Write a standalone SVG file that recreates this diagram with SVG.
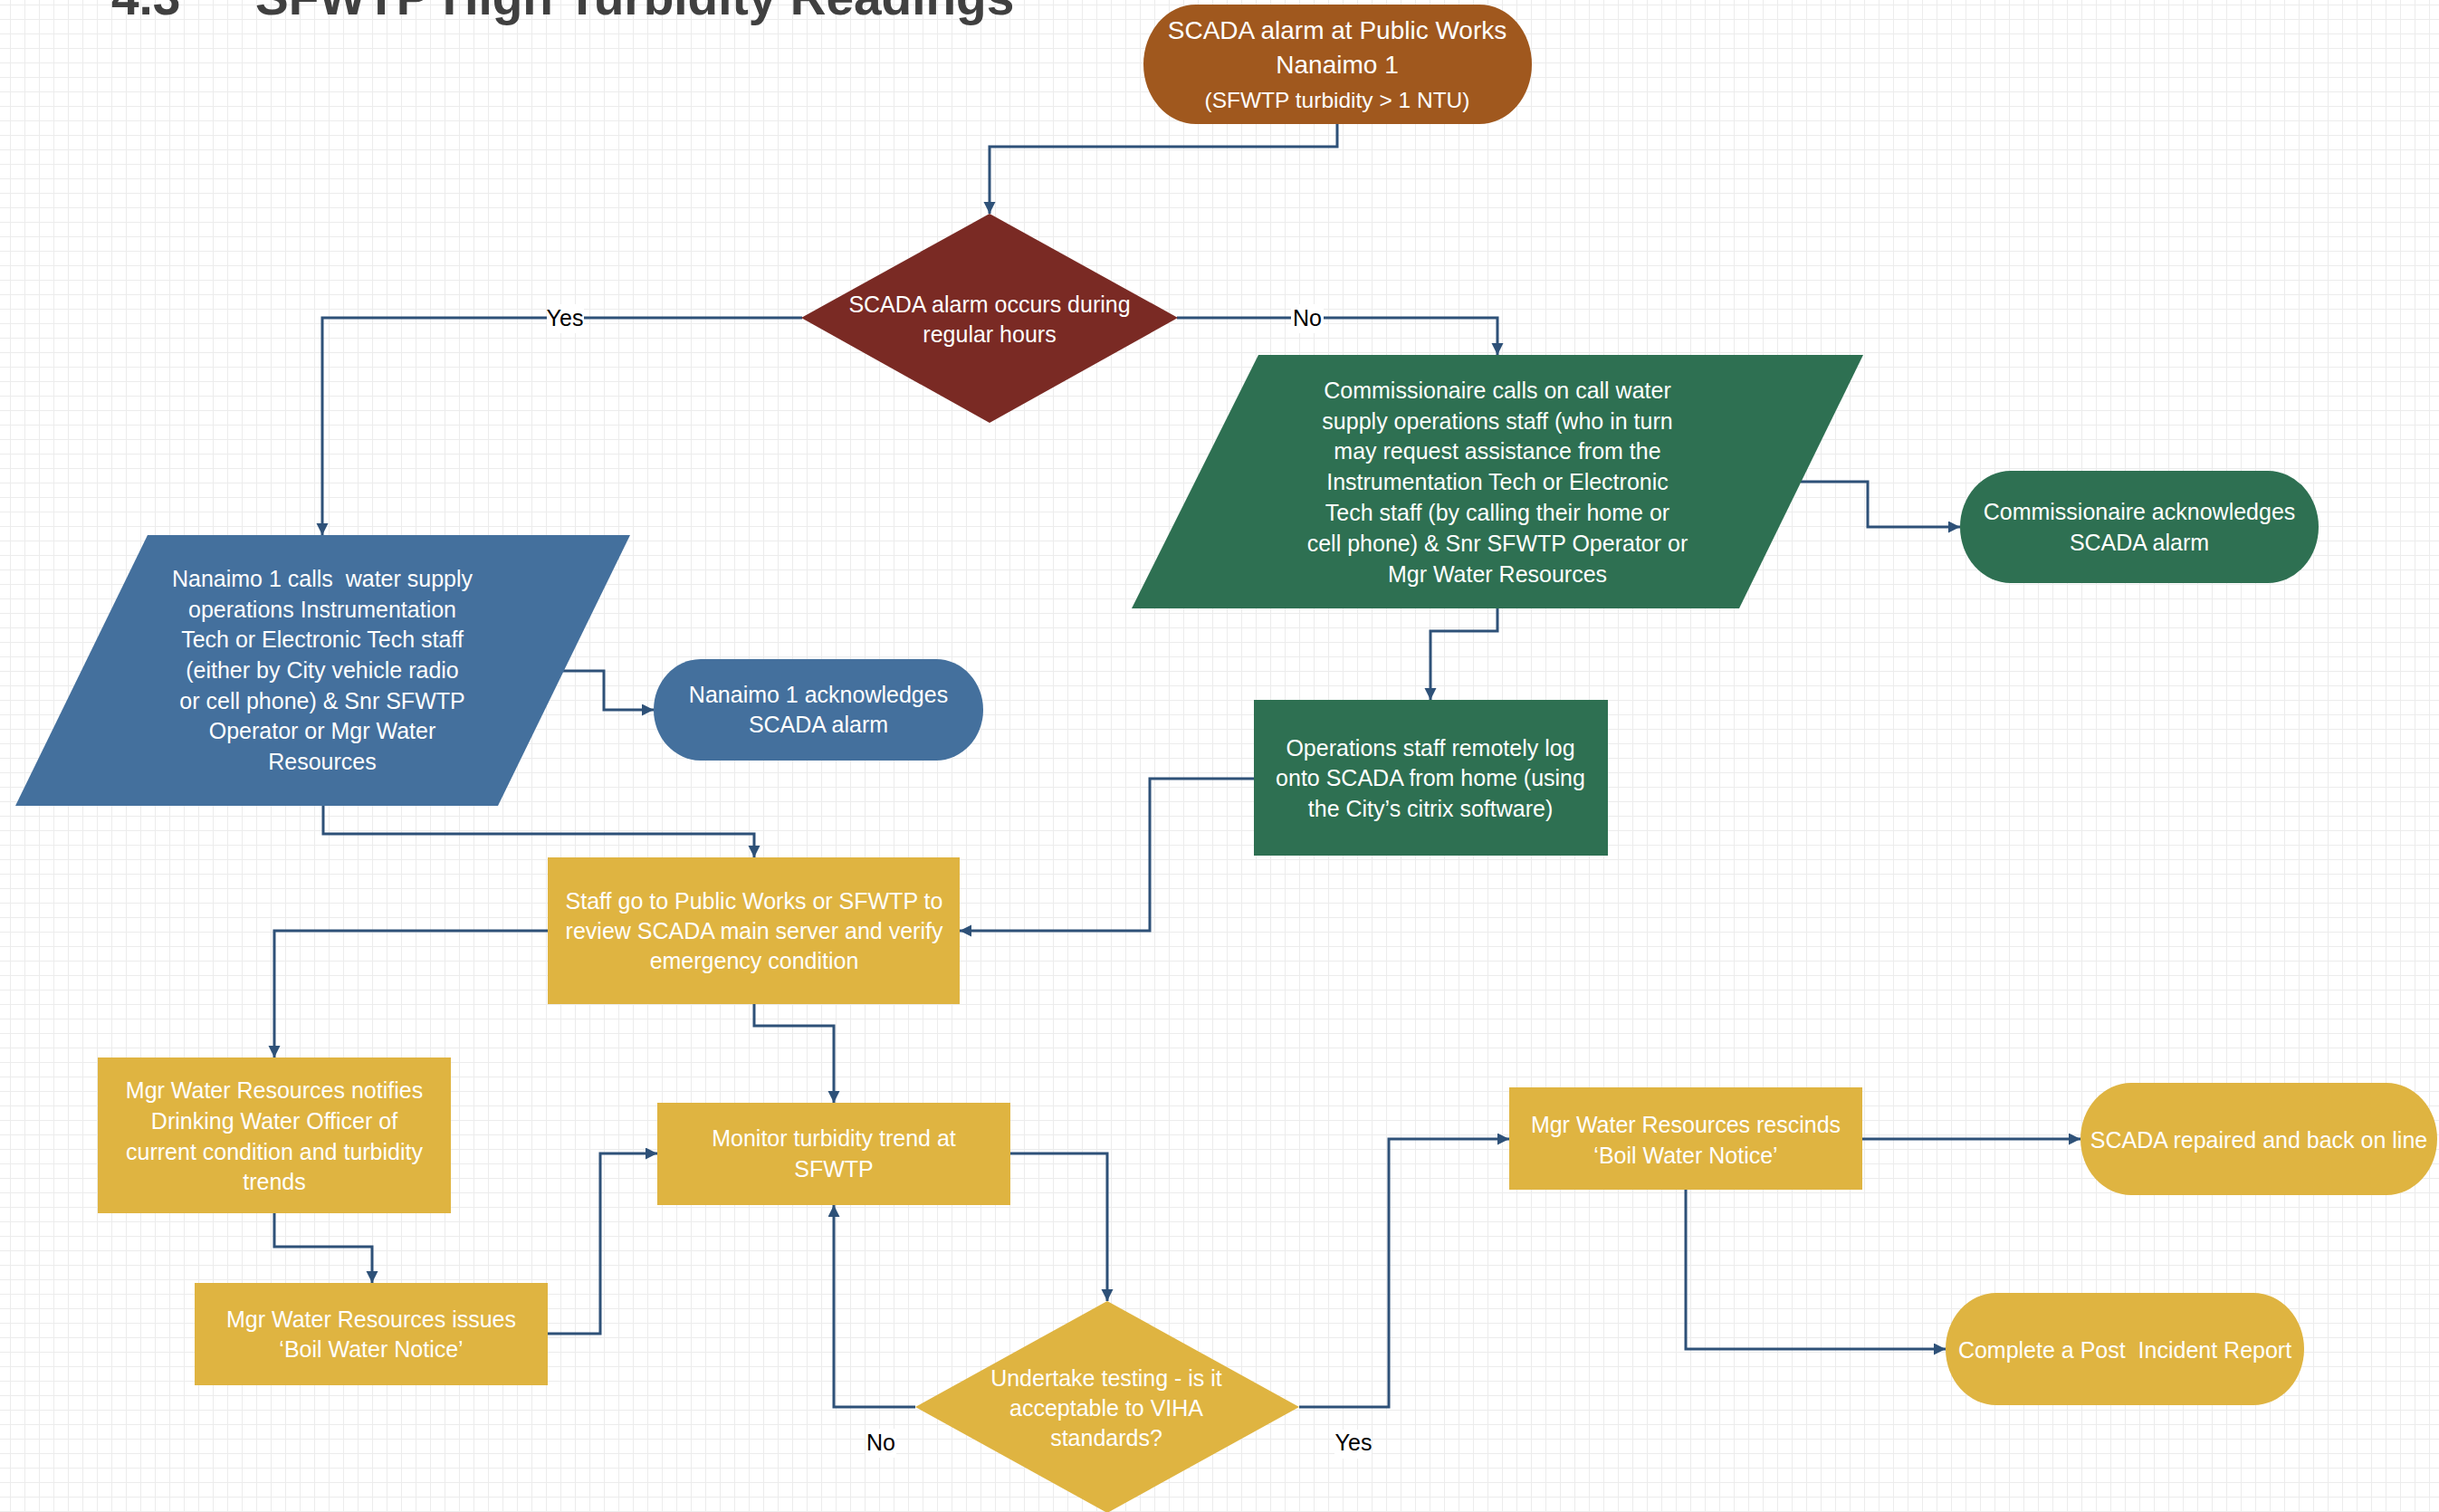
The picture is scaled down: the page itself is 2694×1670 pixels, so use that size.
<svg xmlns="http://www.w3.org/2000/svg" width="2694" height="1670" viewBox="0 0 2694 1670">
<style>
.t{font-family:"Liberation Sans",Arial,sans-serif;font-size:25px;fill:#ffffff;text-anchor:middle;white-space:pre}
.lb{font-family:"Liberation Sans",Arial,sans-serif;font-size:25px;fill:#000000;text-anchor:middle}
.title{font-family:"Liberation Sans",Arial,sans-serif;font-size:55px;font-weight:bold;fill:#404040}
.c{fill:none;stroke:#2E5178;stroke-width:3;marker-end:url(#arr)}
.lbg{fill:#ffffff}
.brown{fill:#A0581E}
.red{fill:#7A2A24}
.blue{fill:#44709D}
.green{fill:#2E7052}
.yellow{fill:#DFB441}
</style>
<defs>
<pattern id="grid" width="16" height="16" patternUnits="userSpaceOnUse" x="11" y="5">
<path d="M0 0H16M0 0V16" stroke="#ECECEC" stroke-width="2" fill="none"/>
</pattern>
<marker id="arr" markerUnits="userSpaceOnUse" markerWidth="14" markerHeight="14" refX="13" refY="6.5" orient="auto">
<path d="M0,0 L13,6.5 L0,13 z" fill="#2E5178"/>
</marker>
</defs>
<rect x="0" y="0" width="2694" height="1670" fill="#ffffff"/>
<rect x="0" y="0" width="2694" height="1670" fill="url(#grid)"/>
<g id="title">
<text class="title" x="123" y="16">4.3</text>
<text class="title" x="282" y="16">SFWTP High Turbidity Readings</text>
</g>
<g id="connectors">
<polyline class="c" points="1477,137 1477,162 1093,162 1093,236"/>
<polyline class="c" points="886,351 356,351 356,591"/>
<polyline class="c" points="622,741 667,741 667,784 722,784"/>
<polyline class="c" points="1300,351 1654,351 1654,392"/>
<polyline class="c" points="1989,532 2063,532 2063,582 2165,582"/>
<polyline class="c" points="1654,672 1654,697 1580,697 1580,773"/>
<polyline class="c" points="1385,860 1270,860 1270,1028 1060,1028"/>
<polyline class="c" points="357,890 357,921 833,921 833,947"/>
<polyline class="c" points="605,1028 303,1028 303,1168"/>
<polyline class="c" points="303,1340 303,1377 411,1377 411,1417"/>
<polyline class="c" points="605,1473 663,1473 663,1274 726,1274"/>
<polyline class="c" points="833,1109 833,1133 921,1133 921,1218"/>
<polyline class="c" points="1116,1274 1223,1274 1223,1437"/>
<polyline class="c" points="1011,1554 921,1554 921,1331"/>
<polyline class="c" points="1435,1554 1534,1554 1534,1258 1667,1258"/>
<polyline class="c" points="2057,1258 2298,1258"/>
<polyline class="c" points="1862,1314 1862,1490 2149,1490"/>
<rect class="lbg" x="604" y="336" width="41" height="32"/>
<text class="lb" x="624" y="360">Yes</text>
<rect class="lbg" x="1426" y="336" width="36" height="32"/>
<text class="lb" x="1444" y="360">No</text>
<rect class="lbg" x="956" y="1578" width="34" height="32"/>
<text class="lb" x="973" y="1602">No</text>
<rect class="lbg" x="1474" y="1579" width="41" height="32"/>
<text class="lb" x="1495" y="1602">Yes</text>
</g>
<g id="start">
<rect class="brown" x="1263" y="5" width="429" height="132" rx="58" ry="66"/>
<text class="t" x="1477" y="43" style="font-size:28px">SCADA alarm at Public Works</text>
<text class="t" x="1477" y="81" style="font-size:28px">Nanaimo 1</text>
<text class="t" x="1477" y="118.5" style="font-size:24.5px">(SFWTP turbidity &gt; 1 NTU)</text>
</g>
<g id="decision1">
<polygon class="red" points="1093,236 1301,351 1093,467 885,351"/>
<text class="t" x="1093" y="345">SCADA alarm occurs during</text>
<text class="t" x="1093" y="378">regular hours</text>
</g>
<g id="nanaimo-calls">
<polygon class="blue" points="163,591 696,591 550,890 17,890"/>
<text class="t" x="356" y="648">Nanaimo 1 calls  water supply</text>
<text class="t" x="356" y="682">operations Instrumentation</text>
<text class="t" x="356" y="715">Tech or Electronic Tech staff</text>
<text class="t" x="356" y="749">(either by City vehicle radio</text>
<text class="t" x="356" y="783">or cell phone) &amp; Snr SFWTP</text>
<text class="t" x="356" y="816">Operator or Mgr Water</text>
<text class="t" x="356" y="850">Resources</text>
</g>
<g id="nanaimo-ack">
<rect class="blue" x="722" y="728" width="364" height="112" rx="52" ry="56"/>
<text class="t" x="904" y="776">Nanaimo 1 acknowledges</text>
<text class="t" x="904" y="809">SCADA alarm</text>
</g>
<g id="commissionaire-calls">
<polygon class="green" points="1390,392 2058,392 1921,672 1250,672"/>
<text class="t" x="1654" y="440">Commissionaire calls on call water</text>
<text class="t" x="1654" y="474">supply operations staff (who in turn</text>
<text class="t" x="1654" y="507">may request assistance from the</text>
<text class="t" x="1654" y="541">Instrumentation Tech or Electronic</text>
<text class="t" x="1654" y="575">Tech staff (by calling their home or</text>
<text class="t" x="1654" y="609">cell phone) &amp; Snr SFWTP Operator or</text>
<text class="t" x="1654" y="643">Mgr Water Resources</text>
</g>
<g id="commissionaire-ack">
<rect class="green" x="2165" y="520" width="396" height="124" rx="56" ry="62"/>
<text class="t" x="2363" y="574">Commissionaire acknowledges</text>
<text class="t" x="2363" y="608">SCADA alarm</text>
</g>
<g id="ops-remote">
<rect class="green" x="1385" y="773" width="391" height="172"/>
<text class="t" x="1580" y="835">Operations staff remotely log</text>
<text class="t" x="1580" y="868">onto SCADA from home (using</text>
<text class="t" x="1580" y="902">the City’s citrix software)</text>
</g>
<g id="staff-go">
<rect class="yellow" x="605" y="947" width="455" height="162"/>
<text class="t" x="833" y="1004">Staff go to Public Works or SFWTP to</text>
<text class="t" x="833" y="1037">review SCADA main server and verify</text>
<text class="t" x="833" y="1070">emergency condition</text>
</g>
<g id="mgr-notifies">
<rect class="yellow" x="108" y="1168" width="390" height="172"/>
<text class="t" x="303" y="1213">Mgr Water Resources notifies</text>
<text class="t" x="303" y="1247">Drinking Water Officer of</text>
<text class="t" x="303" y="1281">current condition and turbidity</text>
<text class="t" x="303" y="1314">trends</text>
</g>
<g id="mgr-issues">
<rect class="yellow" x="215" y="1417" width="390" height="113"/>
<text class="t" x="410" y="1466">Mgr Water Resources issues</text>
<text class="t" x="410" y="1499">‘Boil Water Notice’</text>
</g>
<g id="monitor">
<rect class="yellow" x="726" y="1218" width="390" height="113"/>
<text class="t" x="921" y="1266">Monitor turbidity trend at</text>
<text class="t" x="921" y="1300">SFWTP</text>
</g>
<g id="decision2">
<polygon class="yellow" points="1223,1437 1435,1554 1223,1671 1011,1554"/>
<text class="t" x="1222" y="1531">Undertake testing - is it</text>
<text class="t" x="1222" y="1564">acceptable to VIHA</text>
<text class="t" x="1222" y="1597">standards?</text>
</g>
<g id="mgr-rescinds">
<rect class="yellow" x="1667" y="1201" width="390" height="113"/>
<text class="t" x="1862" y="1251">Mgr Water Resources rescinds</text>
<text class="t" x="1862" y="1285">‘Boil Water Notice’</text>
</g>
<g id="scada-repaired">
<rect class="yellow" x="2298" y="1196" width="394" height="124" rx="56" ry="62"/>
<text class="t" x="2495" y="1268">SCADA repaired and back on line</text>
</g>
<g id="post-incident">
<rect class="yellow" x="2149" y="1428" width="396" height="124" rx="56" ry="62"/>
<text class="t" x="2347" y="1500">Complete a Post  Incident Report</text>
</g>
</svg>
